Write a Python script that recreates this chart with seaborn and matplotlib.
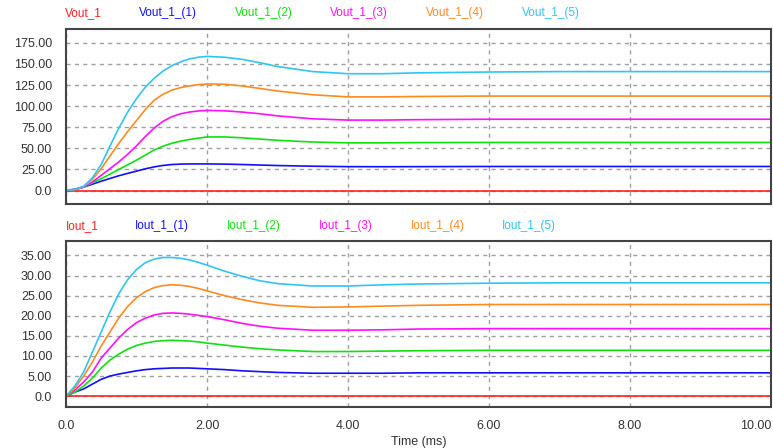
import pandas as pd
import seaborn as sns
import matplotlib
matplotlib.use('Agg')
import matplotlib.pyplot as plt
from matplotlib.ticker import FuncFormatter, MultipleLocator

sns.set_style('white')
plt.rcParams['font.family'] = ['Liberation Sans', 'DejaVu Sans']

# time axis (ms)
time_ms = [0, 0.125, 0.25, 0.375, 0.5, 0.625, 0.75, 0.875, 1.0, 1.125, 1.25,
           1.375, 1.5, 1.625, 1.75, 1.875, 2.0, 2.25, 2.5, 2.75, 3.0,
           3.5, 4.0, 4.5, 5.0, 6.0, 7.0, 8.0, 9.0, 10.0]

# output voltage
vout_1 = [0] * len(time_ms)
vout_1_1 = [0, 1.5, 4, 7.5, 11, 14.3, 17.5, 20.3, 23, 25.7, 28,
            29.7, 30.8, 31.3, 31.5, 31.5, 31.5, 31.3, 30.8, 30.2, 29.6,
            28.8, 28.3, 28.2, 28.3, 28.5, 28.5, 28.5, 28.5, 28.5]
vout_1_2 = [0, 1, 4, 9, 14, 19.5, 25, 30.5, 36, 42, 48,
            52.5, 56, 58.5, 60.5, 62, 63.5, 63.5, 62.5, 61, 59.5,
            57.5, 56.5, 56.5, 56.8, 57, 57, 57, 57, 57]
vout_1_3 = [0, 1, 4, 10, 18, 26, 34, 43, 53, 64, 74,
            82, 87.5, 91, 93, 94.3, 95, 94.5, 93, 91, 88.5,
            85, 83.5, 83.5, 84, 84.5, 84.5, 84.5, 84.5, 84.5]
vout_1_4 = [0, 1.2, 4.5, 13, 26, 41, 56, 70, 83, 96, 107,
            114, 119, 122, 124, 125.5, 126.3, 126, 124, 121, 118,
            113.5, 111, 111, 111.5, 112, 112, 112, 112, 112]
vout_1_5 = [0, 1.5, 5, 15, 31, 53, 74, 93, 109, 122.5, 133,
            141.5, 148, 152.5, 156, 158, 159, 158, 155.5, 151.5, 147,
            141, 138.5, 138.5, 139.5, 140.5, 141, 141, 141, 141]

# output current
iout_1 = [0] * len(time_ms)
iout_1_1 = [0, 1, 1.8, 3, 4.2, 5, 5.5, 5.9, 6.3, 6.6, 6.8,
            6.9, 7.0, 7.0, 7.0, 6.9, 6.8, 6.6, 6.3, 6.1, 5.9,
            5.7, 5.7, 5.7, 5.8, 5.8, 5.8, 5.8, 5.8, 5.8]
iout_1_2 = [0, 1, 2.5, 4.5, 7, 9, 10.5, 11.7, 12.6, 13.2, 13.6,
            13.8, 13.9, 13.8, 13.7, 13.5, 13.2, 12.7, 12.2, 11.8, 11.5,
            11.1, 11.1, 11.2, 11.3, 11.4, 11.4, 11.4, 11.4, 11.4]
iout_1_3 = [0, 1.5, 3.5, 6, 9.5, 12, 14.5, 16.6, 18.3, 19.4, 20.2,
            20.6, 20.7, 20.6, 20.4, 20.1, 19.8, 19.0, 18.1, 17.4, 16.9,
            16.4, 16.4, 16.5, 16.7, 16.8, 16.8, 16.8, 16.8, 16.8]
iout_1_4 = [0, 2, 5, 8.5, 12.5, 16, 19.5, 22.3, 24.5, 26, 27,
            27.5, 27.7, 27.6, 27.3, 26.8, 26.2, 25, 24, 23.2, 22.6,
            22.1, 22.2, 22.4, 22.6, 22.8, 22.8, 22.8, 22.8, 22.8]
iout_1_5 = [0, 2.5, 6, 11, 16, 21, 25.5, 29, 31.5, 33.2, 34.1,
            34.5, 34.5, 34.3, 33.9, 33.3, 32.6, 31.1, 29.8, 28.7, 28.0,
            27.4, 27.4, 27.7, 27.9, 28.1, 28.2, 28.2, 28.2, 28.2]

vout_names = ['Vout_1', 'Vout_1_(1)', 'Vout_1_(2)', 'Vout_1_(3)', 'Vout_1_(4)', 'Vout_1_(5)']
iout_names = ['Iout_1', 'Iout_1_(1)', 'Iout_1_(2)', 'Iout_1_(3)', 'Iout_1_(4)', 'Iout_1_(5)']
colors = ['#ff2020', '#1010ff', '#10e010', '#ff10ff', '#ff8a1e', '#2ec4f5']

vout_series = [vout_1, vout_1_1, vout_1_2, vout_1_3, vout_1_4, vout_1_5]
iout_series = [iout_1, iout_1_1, iout_1_2, iout_1_3, iout_1_4, iout_1_5]


def long_df(names, series):
    frames = [pd.DataFrame({'t': time_ms, 'v': s, 'name': n})
              for n, s in zip(names, series)]
    return pd.concat(frames, ignore_index=True)


def fmt(v, pos):
    if abs(v) < 1e-9:
        return '0.0'
    return '%.2f' % v


W, H = 773, 448
fig = plt.figure(figsize=(W / 100, H / 100), dpi=100)
ax_v = fig.add_axes([66 / W, 1 - 204 / H, 705 / W, 175 / H])
ax_i = fig.add_axes([66 / W, 1 - 407 / H, 705 / W, 166 / H])

panels = [
    (ax_v, vout_names, vout_series, (-16, 191.5), 25, 13, [65, 139, 235, 330, 426, 522]),
    (ax_i, iout_names, iout_series, (-2.7, 38.6), 5, 226, [66, 135, 227, 319, 411, 502]),
]

for ax, names, series, ylim, ystep, label_y, label_x in panels:
    sns.lineplot(data=long_df(names, series), x='t', y='v', hue='name',
                 palette=dict(zip(names, colors)), linewidth=1.2,
                 legend=False, ax=ax)
    ax.set_xlim(0, 10)
    ax.set_ylim(*ylim)
    ax.set_xticks([0, 2, 4, 6, 8, 10])
    ax.yaxis.set_major_locator(MultipleLocator(ystep))
    ax.xaxis.set_major_formatter(FuncFormatter(fmt))
    ax.yaxis.set_major_formatter(FuncFormatter(fmt))
    ax.grid(True, color='#a0a0a0', linestyle=(0, (3, 3)), linewidth=1)
    ax.set_axisbelow(True)
    ax.tick_params(length=0, labelsize=9, labelcolor='#333333', pad=10)
    for side in ['top', 'bottom', 'left', 'right']:
        ax.spines[side].set_color('#444444')
        ax.spines[side].set_linewidth(1.5)
    ax.set_ylabel('')
    ax.set_xlabel('')
    for n, c, x in zip(names, colors, label_x):
        fig.text(x / W, 1 - label_y / H, n, color=c, fontsize=8.5,
                 ha='left', va='center')

ax_v.tick_params(labelbottom=False)
ax_i.tick_params(axis='x', pad=9)
ax_i.get_xticklabels()[-1].set_horizontalalignment('right')
ax_i.set_xlabel('Time (ms)', fontsize=9, color='#333333', labelpad=3)

fig.savefig('out.png', dpi=100, facecolor='white')
